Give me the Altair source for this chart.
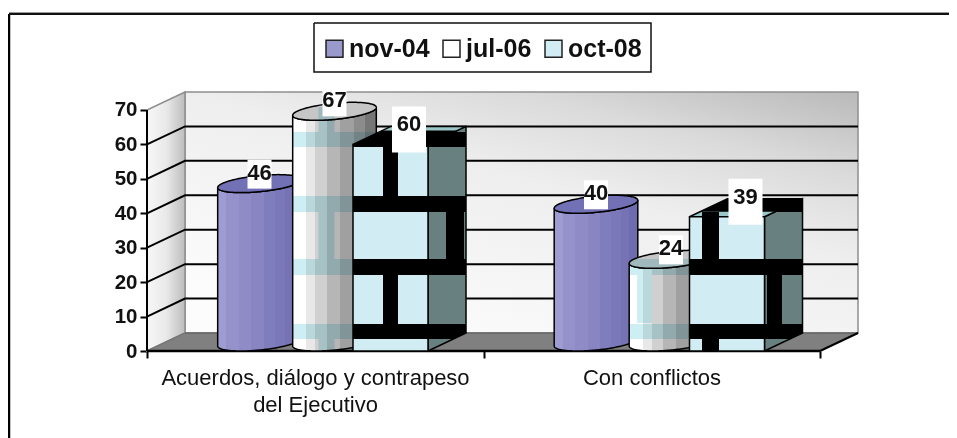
import math
import numpy as np
import pandas as pd
import altair as alt

# ---- data ----
categories = ["Acuerdos, diálogo y contrapeso|del Ejecutivo", "Con conflictos"]
series = ["nov-04", "jul-06", "oct-08"]
nov04 = [46, 40]
jul06 = [67, 24]
oct08 = [60, 39]
legend_colors = ["#9999cc", "#ffffff", "#d2ecf3"]
y_ticks = [0, 10, 20, 30, 40, 50, 60, 70]

# ---- 3-D projection helpers: plot units <-> picture scale ----
PXU, PXV = 336.5, 3.443          # pixels per category / per value unit
X0, Y0, PW, PH = 147, 351, 711, 259
DX, DV = 38 / PXU, 18 / PXV      # depth of the box
A, B, C = 37.5 / PXU, 18.5 / PXU, 9 / PXV   # base ellipse (half width, half depth)
SLOT = [112.5 / PXU, 187.5 / PXU, 262 / PXU]  # column centre inside a group
T0 = math.atan2(B, A)
R = math.hypot(A, B)


def ux(px):
    return (px - X0) / PXU


def uy(py):
    return (Y0 - py) / PXV


xscale = alt.Scale(domain=[0, PW / PXU], nice=False, zero=False)
yscale = alt.Scale(domain=[0, PH / PXV], nice=False, zero=False)

cat_expr = "datum.value == 0 ? {} : datum.value == 1 ? {} : ''".format(
    "[" + ",".join("'%s'" % p for p in categories[0].split("|")) + "]",
    "'%s'" % categories[1],
)
x_axis = alt.Axis(
    values=[0, 1, 2], grid=False, domain=False, tickColor="black", tickWidth=2, tickSize=7,
    labelExpr=cat_expr, labelOffset=168, labelFont="Liberation Sans", labelFontSize=22,
    labelColor="#111111", labelPadding=9, labelOverlap=False, labelBound=False, labelFlush=False,
    labelLineHeight=27, labelLimit=500,
)
y_axis = alt.Axis(
    values=y_ticks, grid=False, domain=False, tickColor="black", tickWidth=2, tickSize=7,
    labelFont="Liberation Sans", labelFontWeight="bold", labelFontSize=20.5,
    labelColor="#111111", labelPadding=3, labelOverlap=False, labelBound=False,
)
AX_X = alt.X("x:Q", scale=xscale, axis=x_axis, title=None)
AX_Y = alt.Y("y:Q", scale=yscale, axis=y_axis, title=None)
layers = []


def area(pts, fill, stroke=None, sw=1.5, opacity=1.0, blend=None):
    """pts: (x, y, y2) rows."""
    df = pd.DataFrame(pts, columns=["x", "y", "y2"])
    kw = dict(fill=fill, opacity=opacity, interpolate="linear", clip=False)
    if blend:
        kw.update(blend=blend)
    if stroke:
        kw.update(stroke=stroke, strokeWidth=sw)
    else:
        kw.update(strokeWidth=0)
    layers.append(alt.Chart(df).mark_area(**kw).encode(x=AX_X, y=AX_Y, y2="y2:Q"))


def line(pts, color="black", sw=1.5):
    df = pd.DataFrame(pts, columns=["x", "y"]).reset_index()
    layers.append(
        alt.Chart(df).mark_line(color=color, strokeWidth=sw, clip=False).encode(
            x=AX_X, y=AX_Y, order="index:Q"
        )
    )


def rects(rows, color, opacity=1.0):
    df = pd.DataFrame(rows, columns=["x", "x2", "y", "y2"])
    layers.append(
        alt.Chart(df).mark_rect(color=color, opacity=opacity, strokeWidth=0, clip=False).encode(
            x=AX_X, x2="x2:Q", y=AX_Y, y2="y2:Q"
        )
    )


def grad(stops, x1=0, y1=0, x2=1, y2=0):
    return {
        "gradient": "linear", "x1": x1, "y1": y1, "x2": x2, "y2": y2,
        "stops": [{"offset": o, "color": c} for o, c in stops],
    }


def stepped(colors, edges):
    out = []
    for i, c in enumerate(colors):
        out += [(edges[i], c), (edges[i + 1], c)]
    return grad(out)


# ---- frame ----
line([(ux(9), uy(14)), (ux(9), uy(438))], "black", 2.5)
line([(ux(9), uy(12.5)), (ux(957), uy(12.5))], "#9a9a9a", 1)
line([(ux(9), uy(14)), (ux(957), uy(14))], "#111111", 2)

# ---- legend box ----
line(
    [(ux(314), uy(23)), (ux(651), uy(23)), (ux(651), uy(72)), (ux(314), uy(72)), (ux(314), uy(23))],
    "#111111", 1.5,
)

# ---- walls and floor ----
vtop = 70
area(
    [(DX, DV, vtop + DV), (2 + DX, DV, vtop + DV)],
    grad([(0, "#fbfcfb"), (0.33, "#f3f3f3"), (0.53, "#eeeeee"), (0.765, "#dadada"), (1, "#b9b9b9")],
         x1=0.3, y1=1, x2=1, y2=0),
    "#8f8f8f", 1.5,
)
area(
    [(0, 0, vtop), (DX, DV, vtop + DV)],
    grad([(0, "#f6f7f6"), (0.5, "#e9e9e9"), (1, "#bdbdbd")]),
    "#8f8f8f", 1.5,
)
area([(0, 0, 0), (DX, DV, 0), (2, DV, 0), (2 + DX, DV, DV)], "#808080")
line([(DX, DV), (2 + DX, DV)], "#666666", 1.5)
for v in y_ticks[1:-1]:
    line([(0, v), (DX, v + DV), (2 + DX, v + DV)], "#000000", 2)
line([(0, 0), (DX, DV)], "#777777", 1.5)
line([(2, 0), (2 + DX, DV)], "black", 2)
line([(0, 0), (2, 0)], "black", 2.5)
line([(0, 0), (0, 70)], "black", 2)

# ---- columns ----
thetas = np.linspace(0, math.pi, 81)


def cyl_bounds(val):
    xs = R * np.cos(thetas)
    up = val + C + C * np.sin(T0 + thetas)
    lo_top = val + C + C * np.sin(T0 - thetas)
    lo_base = C + C * np.sin(T0 - thetas)
    return xs, up, lo_top, lo_base


def cylinder(cx, val, body_fill, top_fill):
    xs, up, lo_top, lo_base = cyl_bounds(val)
    area([(cx + x, a, b) for x, a, b in zip(xs, lo_top, lo_base)], body_fill, "black", 1.5)
    area([(cx + x, a, b) for x, a, b in zip(xs, up, lo_top)], top_fill, "black", 1.5)


def cyl_overlay(cx, val, vlow, vhigh, color, xlo=None, xhi=None):
    xs, up, _, lo_base = cyl_bounds(val)
    pts = []
    for x, a, b in zip(xs, up, lo_base):
        px = cx + x
        if xlo is not None and not (xlo <= px <= xhi):
            continue
        t = min(vhigh, a)
        k = max(vlow, b)
        pts.append((px, max(t, k), k))
    if pts:
        area(pts, color, None, blend="multiply")


BANDS = [(59.25, 63.6), (40.4, 45.0), (22.1, 26.7), (3.49, 7.84)]
TEAL = "#cdeef2"

purple = stepped(
    ["#9f9cd2", "#9491cb", "#8e8bc6", "#8885c2", "#807dbc", "#7a78b8", "#7573b4", "#6e6cb0"],
    [0, .1, .25, .4, .55, .68, .8, .9, 1],
)
grey = stepped(
    ["#ffffff", "#e8e8e8", "#d0d0d0", "#b6b6b6", "#a0a0a0", "#8c8c8c", "#767676"],
    [0, .16, .27, .41, .56, .73, .86, 1],
)
BOX_FRONT, BOX_SIDE, BOX_TOP = "#d2ecf3", "#688080", "#9ac8c8"

# vertical stripes of the picture's pattern, per group
JUL_STRIPES = [
    [(318, 335, 107, 132), (318, 335, 212, 259), (318, 335, 339, 351)],
    [(637, 653, 275, 323)],
]
OCT_STRIPES = [
    [(383, 398, 147, 196), (383, 398, 275, 324), (446, 464, 212, 259)],
    [(702, 719, 212, 259), (702, 719, 339, 351), (767, 782, 275, 324)],
]
TOP_BLACK = [(0.0, 0.78), (0.28, 1.0)]   # share of the box top that is black

for g in range(2):
    # nov-04
    c0 = g + SLOT[0]
    cylinder(c0, nov04[g], purple, "#7371b5")
    # jul-06
    c1 = g + SLOT[1]
    cylinder(c1, jul06[g], grey, "#c6c6c6")
    for lo, hi in BANDS:
        cyl_overlay(c1, jul06[g], lo, hi, TEAL)
    for xa, xb, ya, yb in JUL_STRIPES[g]:
        cyl_overlay(c1, jul06[g], uy(yb), uy(ya), TEAL, ux(xa), ux(xb))
    # oct-08
    c2 = g + SLOT[2]
    xl, xr = c2 - A - B, c2 + A - B
    v = oct08[g]
    area([(xr, 0, v), (xr + DX, DV, v + DV)], BOX_SIDE, "black", 1.5)
    area([(xl, v, v), (xl + DX, v + DV, v), (xr, v + DV, v), (xr + DX, v + DV, v + DV)],
         BOX_TOP, "black", 1.5)
    rects([(xl, xr, 0, v)], BOX_FRONT)
    line([(xl, 0), (xl, v), (xr, v), (xr, 0), (xl, 0)], "black", 1.5)
    # black part of the top
    f0, f1 = TOP_BLACK[g]
    y0b, y1b = v + f0 * DV, v + f1 * DV
    xa0, xa1 = xl + f0 * DX, xl + f1 * DX
    xb0, xb1 = xr + f0 * DX, xr + f1 * DX
    area([(xa0, y0b, y0b), (xa1, y1b, y0b), (xb0, y1b, y0b), (xb1, y1b, y1b)], "black")
    # black pattern on the box
    xs_box = np.concatenate([[xl], np.linspace(xr, xr + DX, 40)])
    for lo, hi in BANDS:
        pts = []
        for x in xs_box:
            s = max(0.0, (x - xr) / DX) * DV
            t = min(hi, v + s)
            k = max(lo, s)
            pts.append((x, max(t, k), k))
        area(pts, "black")
    rects(
        [(ux(xa), ux(xb), uy(yb), uy(ya)) for xa, xb, ya, yb in OCT_STRIPES[g]],
        "black",
    )

# ---- value labels with their white boxes ----
label_rows, box_rows = [], []
for g in range(2):
    for s, vals in enumerate([nov04, jul06, oct08]):
        cx = g + SLOT[s]
        val = vals[g]
        ly = val + C + 11 / PXV
        hw, up_px, dn_px = (12, 13, 16) if s < 2 else (17, 18, 28)
        box_rows.append((cx - hw / PXU, cx + hw / PXU, ly - dn_px / PXV, ly + up_px / PXV))
        label_rows.append({"x": cx, "y": ly, "t": str(val)})
rects(box_rows, "white")
layers.append(
    alt.Chart(pd.DataFrame(label_rows)).mark_text(
        font="Liberation Sans", fontWeight="bold", fontSize=22, color="#111111",
        align="center", baseline="middle", clip=False,
    ).encode(x=AX_X, y=AX_Y, text="t:N")
)

# ---- legend ----
legend_layer = alt.Chart(pd.DataFrame({"x": [0, 0, 0], "y": [0, 0, 0], "serie": series})).mark_square(
    size=0, opacity=0
).encode(
    x=AX_X, y=AX_Y,
    color=alt.Color("serie:N", scale=alt.Scale(domain=series, range=legend_colors), legend=alt.Legend(
        title=None, orient="none", legendX=175, legendY=-56, direction="horizontal", columns=3,
        symbolType="square", symbolSize=289, symbolOpacity=1, symbolStrokeColor="#222222",
        symbolStrokeWidth=1.5, labelFont="Liberation Sans", labelFontWeight="bold", labelFontSize=25,
        labelColor="#111111", labelOffset=2, columnPadding=9, padding=0, cornerRadius=0, labelLimit=200,
    )),
)
layers.append(legend_layer)

chart = alt.layer(*layers).properties(
    width=PW, height=PH, background="white",
    padding={"left": 139, "top": 84, "right": 91, "bottom": 87},
    autosize=alt.AutoSizeParams(type="none"),
).configure_view(stroke=None)

chart.save("out.html", embed_options={"renderer": "svg", "actions": False})
